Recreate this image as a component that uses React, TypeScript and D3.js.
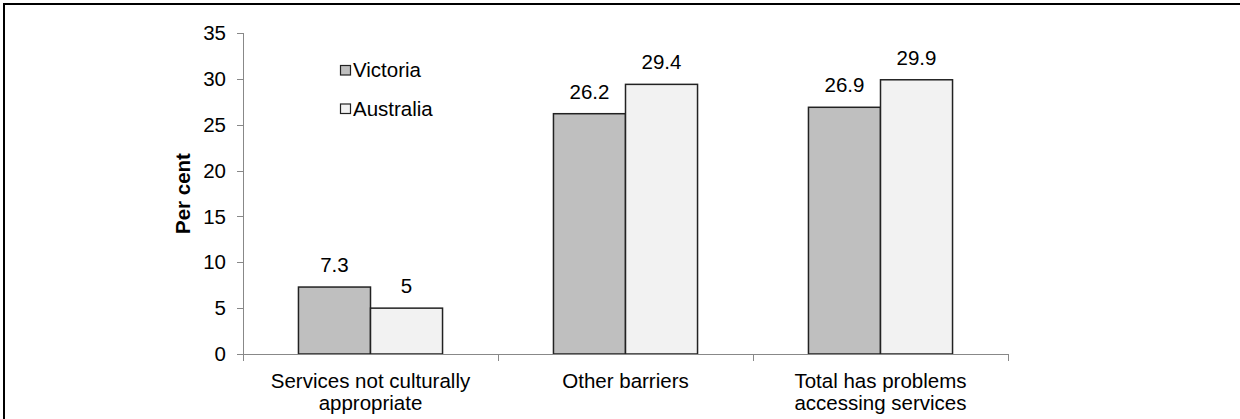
import React from "react";
import * as d3 from "d3";

const categories = [
  ["Services not culturally", "appropriate"],
  ["Other barriers"],
  ["Total has problems", "accessing services"],
];
const seriesNames = ["Victoria", "Australia"];
const victoria = [7.3, 26.2, 26.9];
const australia = [5, 29.4, 29.9];
const yTicks = [0, 5, 10, 15, 20, 25, 30, 35];
const colors = ["#bfbfbf", "#f2f2f2"];

export default function App() {
  const W = 1240, H = 419;
  const left = 243, right = 1008, top = 33, bottom = 354;
  const catKeys = categories.map((c, i) => String(i));
  const x = d3.scaleBand<string>().domain(catKeys).range([left, right]).paddingInner(0.435).paddingOuter(0.2175);
  const xs = d3.scaleBand<string>().domain(seriesNames).range([0, x.bandwidth()]);
  const y = d3.scaleLinear().domain([0, 35]).range([bottom, top]);
  const values = [victoria, australia];
  const font = "'Liberation Sans', Arial, sans-serif";
  const fs = 20.5;
  const step = x.step();
  const boundaries = d3.range(categories.length + 1).map((i) => left + i * step);

  return (
    <svg width={W} height={H} style={{ position: "absolute", left: 0, top: 0, background: "#fff" }} fontFamily={font}>
      <rect x={0} y={0} width={W} height={H} fill="#fff" />
      <path d={`M4,${H + 5} V4 H${W + 5}`} fill="none" stroke="#000" strokeWidth={2} />
      {/* y axis */}
      <line x1={left + 0.5} x2={left + 0.5} y1={top} y2={bottom} stroke="#888" />
      {yTicks.map((t) => (
        <g key={t}>
          <line x1={left - 6} x2={left} y1={Math.round(y(t)) + 0.5} y2={Math.round(y(t)) + 0.5} stroke="#888" />
          <text x={left - 17} y={y(t)} dy="0.35em" textAnchor="end" fontSize={fs} fill="#000">{t}</text>
        </g>
      ))}
      <text transform={`translate(183,${(top + bottom) / 2}) rotate(-90)`} textAnchor="middle" dy="0.35em" fontSize={fs} fontWeight="bold" fill="#000">Per cent</text>
      {/* bars */}
      {categories.map((c, i) => (
        <g key={i}>
          {values.map((vals, s) => {
            const bx = (x(String(i)) as number) + (xs(seriesNames[s]) as number);
            const bw = xs.bandwidth();
            return (
              <g key={s}>
                <rect x={bx} y={y(vals[i])} width={bw} height={bottom - y(vals[i])} fill={colors[s]} stroke="#222" strokeWidth={1.5} />
                <text x={bx + bw / 2} y={y(vals[i]) - 15} textAnchor="middle" fontSize={fs} fill="#000">{vals[i]}</text>
              </g>
            );
          })}
        </g>
      ))}
      {/* x axis */}
      <line x1={left} x2={right} y1={bottom + 0.5} y2={bottom + 0.5} stroke="#888" />
      {boundaries.map((b, i) => (
        <line key={i} x1={Math.round(b) + 0.5} x2={Math.round(b) + 0.5} y1={bottom} y2={bottom + 7} stroke="#888" />
      ))}
      {categories.map((c, i) => (
        <text key={i} x={(x(String(i)) as number) + x.bandwidth() / 2} y={388} textAnchor="middle" fontSize={fs} fill="#000">
          {c.map((line, j) => (
            <tspan key={j} x={(x(String(i)) as number) + x.bandwidth() / 2} dy={j === 0 ? 0 : 22}>{line}</tspan>
          ))}
        </text>
      ))}
      {/* legend */}
      {seriesNames.map((n, s) => (
        <g key={n} transform={`translate(340,${65.5 + s * 38.5})`}>
          <rect x={0.5} y={0} width={10} height={9.5} fill={colors[s]} stroke="#222" strokeWidth={1.2} />
          <text x={13} y={11.5} fontSize={fs} fill="#000">{n}</text>
        </g>
      ))}
    </svg>
  );
}
